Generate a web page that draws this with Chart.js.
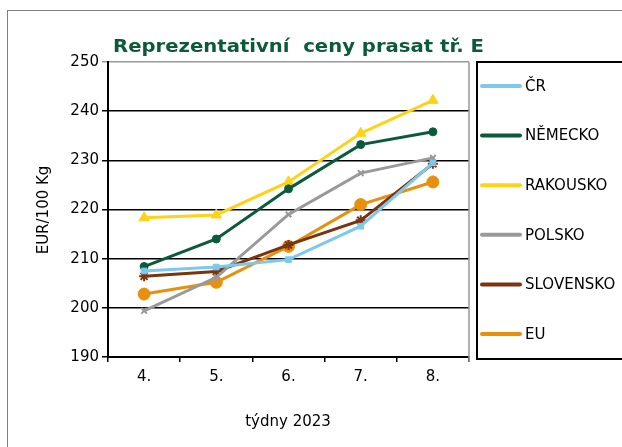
<!DOCTYPE html>
<html>
<head>
<meta charset="utf-8">
<script src="https://cdn.jsdelivr.net/npm/chart.js@4"></script>
<style>
    html, body { margin: 0; padding: 0; background: #fff; }
    #wrap { width: 622px; height: 447px; position: relative; }
</style>
</head>
<body>
<div id="wrap"><canvas id="cenyChart" width="622" height="447"></canvas></div>
<script>
// Týdny a ceny (EUR/100 kg).
const weeks = ['4.', '5.', '6.', '7.', '8.'];
const cr = [207.5, 208.3, 209.8, 216.6, 229.5];
const nemecko = [208.4, 214.0, 224.2, 233.2, 235.8];
const rakousko = [218.3, 218.9, 225.6, 235.5, 242.2];
const polsko = [199.4, 206.2, 219.0, 227.4, 230.5];
const slovensko = [206.4, 207.4, 212.8, 217.8, 229.3];
const eu = [202.8, 205.2, 212.5, 221.0, 225.6];
const yTicks = [190, 200, 210, 220, 230, 240, 250];

const FONT = 'DejaVu Sans';

function series(label, data, color, style, radius) {
    return {
        label: label, data: data,
        borderColor: color, backgroundColor: color,
        borderWidth: 3, pointStyle: style, pointRadius: radius,
        pointBorderColor: color, pointBackgroundColor: color,
        pointBorderWidth: style === 'star' || style === 'crossRot' ? 2 : 1,
        tension: 0
    };
}

// Rámeček, nadpis, popisky os a legenda kreslené ručně.
const decor = {
    id: 'decor',
    beforeDraw(chart) {
        const c = chart.ctx;
        c.save();
        c.strokeStyle = '#808080';
        c.lineWidth = 1;
        c.strokeRect(7.5, 10.5, 800, 600);
        c.restore();
    },
    afterDraw(chart) {
        const c = chart.ctx;
        const a = chart.chartArea;
        c.save();
        // šedý okraj plochy grafu vpravo
        c.strokeStyle = '#999';
        c.lineWidth = 1.5;
        c.beginPath();
        c.moveTo(a.right, a.top);
        c.lineTo(a.right, a.bottom + 5);
        c.stroke();

        // nadpis, roztažený na šířku jako v originálu
        const title = 'Reprezentativní  ceny prasat tř. E';
        c.fillStyle = '#0d5a3a';
        c.font = 'bold 18px ' + FONT;
        c.textAlign = 'left';
        c.textBaseline = 'alphabetic';
        const w = c.measureText(title).width;
        c.save();
        c.translate(113, 52);
        c.scale(371 / w, 1);
        c.fillText(title, 0, 0);
        c.restore();

        // popisky os
        c.fillStyle = '#000';
        c.font = '15px ' + FONT;
        c.textAlign = 'center';
        c.textBaseline = 'middle';
        c.fillText('týdny 2023', 288, 422);
        c.translate(44, 210);
        c.rotate(-Math.PI / 2);
        c.fillText('EUR/100 Kg', 0, 0);
        c.restore();

        // legenda
        c.save();
        c.strokeStyle = '#000';
        c.lineWidth = 2;
        c.strokeRect(477, 62, 400, 297);
        c.font = '15px ' + FONT;
        c.textAlign = 'left';
        c.textBaseline = 'middle';
        chart.data.datasets.forEach((ds, i) => {
            const y = 86 + i * 49.6;
            c.strokeStyle = ds.borderColor;
            c.lineWidth = 4;
            c.lineCap = 'round';
            c.beginPath();
            c.moveTo(482, y);
            c.lineTo(520, y);
            c.stroke();
            c.fillStyle = '#000';
            c.fillText(ds.label, 525, y + 1);
        });
        c.restore();
    }
};

new Chart(document.getElementById('cenyChart'), {
    type: 'line',
    data: {
        labels: weeks,
        datasets: [
            series('ČR', cr, '#7dc8ee', 'rect', 4),
            series('NĚMECKO', nemecko, '#0b5a3c', 'circle', 4),
            series('RAKOUSKO', rakousko, '#fcd317', 'triangle', 6),
            series('POLSKO', polsko, '#999999', 'crossRot', 4),
            series('SLOVENSKO', slovensko, '#7a3510', 'star', 5),
            series('EU', eu, '#e8900c', 'circle', 6)
        ]
    },
    options: {
        responsive: false,
        animation: false,
        layout: { padding: { left: 0, top: 62, right: 153, bottom: 0 } },
        plugins: { legend: { display: false }, title: { display: false }, tooltip: { enabled: false } },
        scales: {
            x: {
                offset: true,
                afterFit(scale) { scale.height = 90; },
                grid: { offset: true, drawOnChartArea: false, color: '#000', tickLength: 5, lineWidth: 1.5 },
                border: { color: '#000', width: 2 },
                ticks: { color: '#000', font: { family: FONT, size: 15 }, padding: 6 }
            },
            y: {
                min: 190, max: 250,
                afterFit(scale) { scale.width = 108; },
                afterBuildTicks(scale) { scale.ticks = yTicks.map(v => ({ value: v })); },
                grid: {
                    color: ctx => ctx.tick && ctx.tick.value === 250 ? '#999' : '#000',
                    lineWidth: 1.5, tickLength: 6
                },
                border: { color: '#000', width: 2 },
                ticks: { color: '#000', font: { family: FONT, size: 15 }, padding: 3 }
            }
        }
    },
    plugins: [decor]
});
</script>
</body>
</html>
